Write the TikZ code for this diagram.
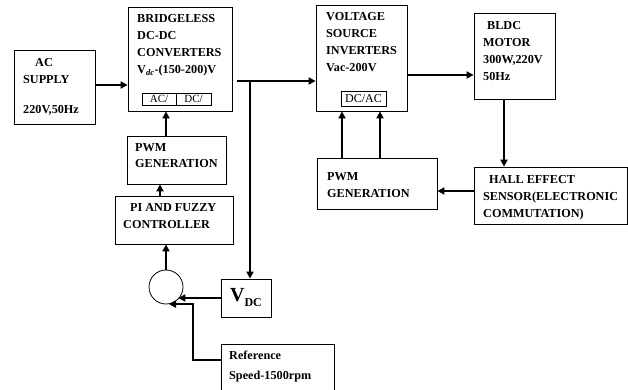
\documentclass[tikz,border=0pt]{standalone}
\usepackage{fontspec}
\setmainfont{Liberation Serif}
\usetikzlibrary{arrows.meta}
\tikzset{
  blk/.style={draw, line width=0.8pt, inner sep=0pt},
  lbl/.style={inner sep=0pt, anchor=north west, align=left, font=\fontsize{12.2}{17}\selectfont\bfseries},
  part/.style={draw, line width=0.8pt, inner sep=0pt, font=\fontsize{12}{12}\selectfont},
  conn/.style={line width=2.2pt, -{Triangle[length=7pt,width=7pt]}},
}

\begin{document}
\begin{tikzpicture}[x=1pt, y=-1pt]
  \useasboundingbox (0,0) rectangle (628,390);
  \node[blk, minimum width=81pt, minimum height=74pt] (ac) at (54.5,87) {};
  \node[lbl] (actxt) at (23,58) {\hspace{12pt}AC\\SUPPLY\\[13pt]220V,50Hz};
  \node[blk, minimum width=104pt, minimum height=104pt] (bdc) at (180,59) {};
  \node[lbl] (bdctxt) at (137,14) {BRIDGELESS\\DC-DC\\CONVERTERS\\V\textsubscript{\itshape dc}-(150-200)V};
  \node[part, minimum width=34pt, minimum height=12pt, font=\fontsize{11}{11}\selectfont] (acp) at (159,99) {AC/};
  \node[part, minimum width=35pt, minimum height=12pt, font=\fontsize{11}{11}\selectfont] (dcp) at (193.5,99) {DC/};
  \node[blk, minimum width=99pt, minimum height=48pt] (pwmL) at (176.5,160) {};
  \node[lbl] (pwmLtxt) at (135,143) {PWM\\[-1pt]GENERATION};
  \node[blk, minimum width=118pt, minimum height=48pt] (pi) at (174,220) {};
  \node[lbl] (pitxt) at (123,203) {\hspace{7pt}PI AND FUZZY\\CONTROLLER};
  \node[draw, circle, line width=0.8pt, minimum size=34pt, inner sep=0pt] (sum) at (166,287) {};
  \node[blk, minimum width=50pt, minimum height=38pt, font=\bfseries] (vdc) at (246,298)
    {\fontsize{20}{20}\selectfont V\raisebox{-5pt}{\fontsize{12}{12}\selectfont DC}};
  \node[blk, minimum width=113pt, minimum height=56pt] (ref) at (277.5,372) {};
  \node[lbl] (reftxt) at (229,351) {Reference\\[3pt]Speed-1500rpm};
  \node[blk, minimum width=91pt, minimum height=106pt] (vsi) at (361.5,58) {};
  \node[lbl] (vsitxt) at (326,12) {VOLTAGE\\SOURCE\\INVERTERS\\Vac-200V};
  \node[part, minimum width=45pt, minimum height=15pt] (dcac) at (363.5,98.5) {DC/AC};
  \node[blk, minimum width=81pt, minimum height=86pt] (bldc) at (514.5,56) {};
  \node[lbl] (bldctxt) at (483,21) {\hspace{4pt}BLDC\\MOTOR\\300W,220V\\50Hz};
  \node[blk, minimum width=153pt, minimum height=57pt] (hall) at (550.5,195.5) {};
  \node[lbl] (halltxt) at (483,175) {\hspace{6pt}HALL EFFECT\\SENSOR(ELECTRONIC\\COMMUTATION)};
  \node[blk, minimum width=120pt, minimum height=51pt] (pwmR) at (377,183.5) {};
  \node[lbl] (pwmRtxt) at (327,172) {PWM\\GENERATION};
  \coordinate (bout) at (237,81);
  \coordinate (tap) at (250,81);
  \draw[conn] ([yshift=2pt]ac.east) -- ([yshift=2pt]ac.east -| bdc.west);
  \draw[conn] (bout) -- (bout -| vsi.west);
  \draw[conn] (tap) -- (tap |- vdc.north);
  \draw[conn] ([xshift=-10.5pt]pwmL.north) -- ([xshift=-10.5pt]pwmL.north |- bdc.south);
  \draw[conn] ([xshift=-14pt]pi.north) -- ([xshift=-14pt]pi.north |- pwmL.south);
  \draw[conn] (sum.north) -- (sum.north |- pi.south);
  \draw[conn] (vdc.west) -- (vdc.west -| sum.-45);
  \draw[conn] ([yshift=12pt]ref.west) -- ++(-28pt,0) |- (sum.-80);
  \draw[conn] ([yshift=-17pt]vsi.east) -- ([yshift=-17pt]vsi.east -| bldc.west);
  \draw[conn] ([xshift=-10.5pt]bldc.south) -- ([xshift=-10.5pt]bldc.south |- hall.north);
  \draw[conn] ([yshift=4.5pt]hall.west) -- ([yshift=4.5pt]hall.west -| pwmR.east);
  \draw[conn] ([xshift=-35pt]pwmR.north) -- ([xshift=-35pt]pwmR.north |- vsi.south);
  \draw[conn] ([xshift=3pt]pwmR.north) -- ([xshift=3pt]pwmR.north |- vsi.south);
\end{tikzpicture}
\end{document}
